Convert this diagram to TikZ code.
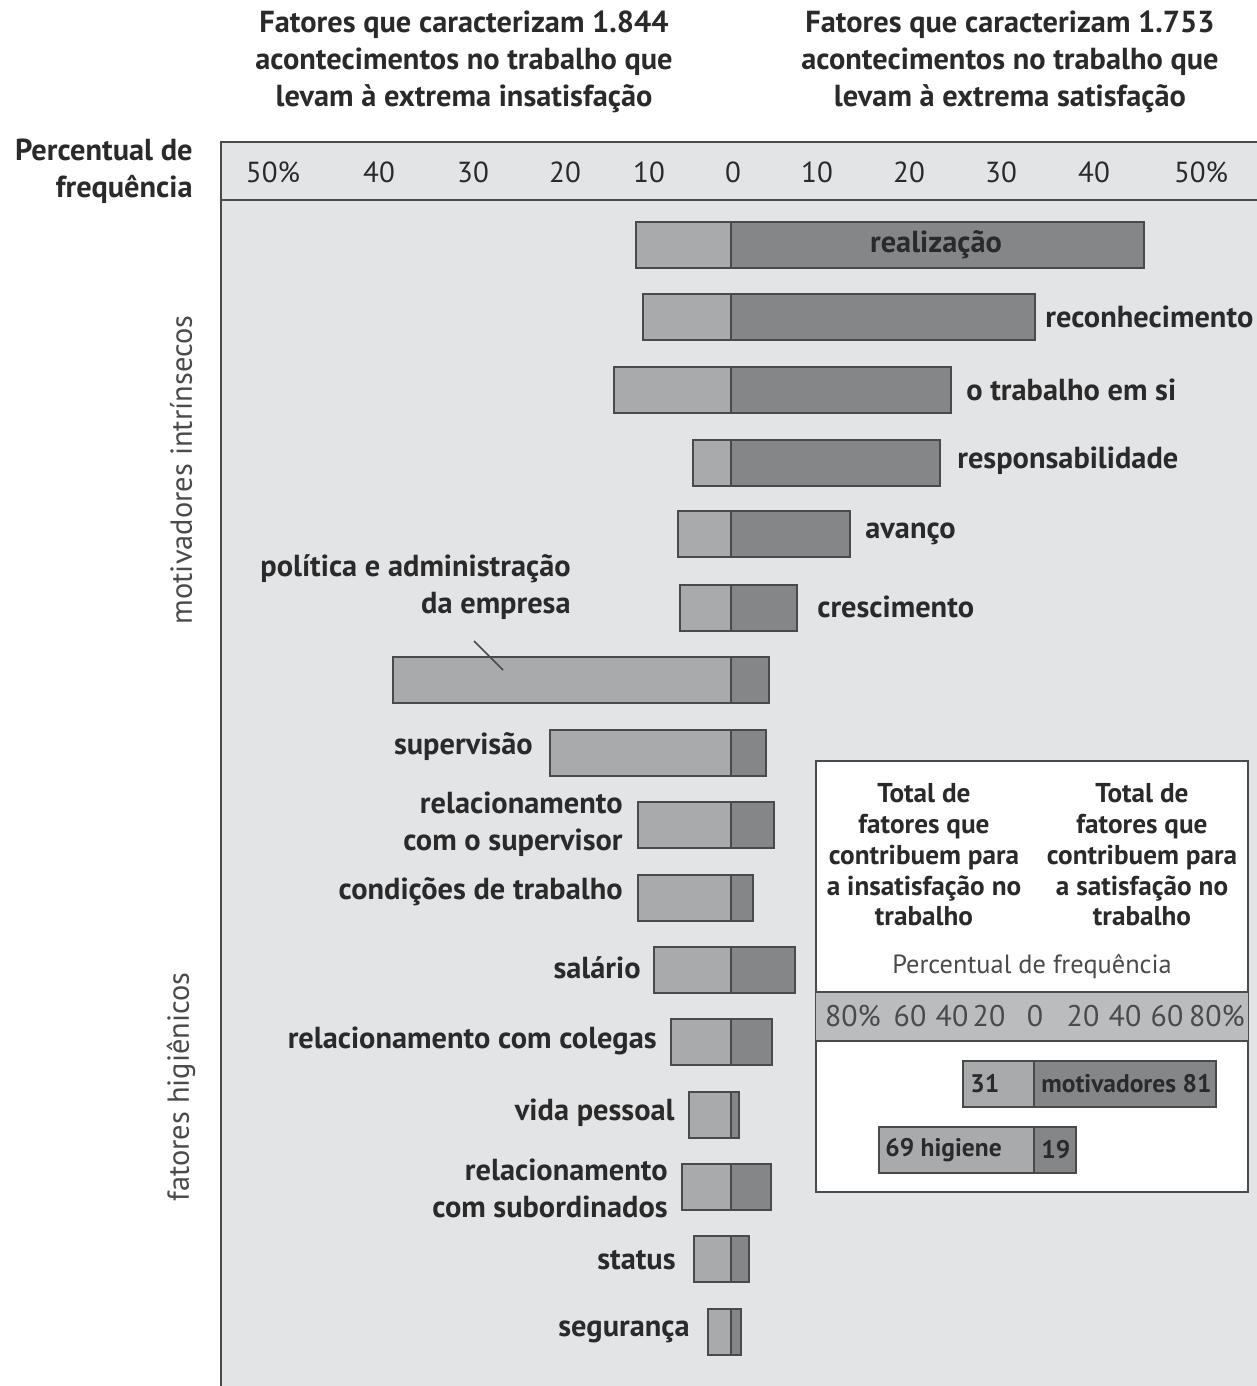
\documentclass[tikz,border=0pt]{standalone}
\usepackage{fontspec}
\setmainfont{PT Sans}
\usetikzlibrary{positioning}
\definecolor{panelgray}{HTML}{E3E4E6}
\definecolor{lightbar}{HTML}{A9AAAC}
\definecolor{darkbar}{HTML}{858688}
\definecolor{bandgray}{HTML}{BBBCBE}
\definecolor{edgegray}{HTML}{4A4A4A}
\definecolor{textgray}{HTML}{2A2A2A}

\begin{document}
\begin{tikzpicture}[x=0.02cm,y=-0.02cm,
  lbl/.style={font=\bfseries\fontsize{17.3}{21}\selectfont, text=textgray, inner sep=0pt},
  axisnum/.style={font=\fontsize{16.5}{19}\selectfont, text=textgray, inner sep=0pt},
  grouplbl/.style={font=\fontsize{17.3}{19}\selectfont, text=edgegray, inner sep=0pt, rotate=90},
  boxlbl/.style={font=\bfseries\fontsize{15.5}{17.5}\selectfont, text=textgray, inner sep=0pt, align=center},
  barlbl/.style={font=\bfseries\fontsize{14.5}{18}\selectfont, text=textgray, inner sep=0pt, anchor=west},
  baredge/.style={draw=edgegray, line width=0.9pt},
]
\useasboundingbox (0,0) rectangle (1257,1386);
\fill[panelgray] (221,142) rectangle (1257,1386);
\draw[edgegray, line width=1.3pt] (1257,142) -- (221,142) -- (221,1386);
\draw[edgegray, line width=1pt] (221,200) -- (1257,200);

\node[lbl, align=center] (titleleft) at (464,62) {Fatores que caracterizam 1.844\\acontecimentos no trabalho que\\levam à extrema insatisfação};
\node[lbl, align=center] (titleright) at (1010,62) {Fatores que caracterizam 1.753\\acontecimentos no trabalho que\\levam à extrema satisfação};
\node[lbl, align=right, anchor=east] (axistitle) at (193,171) {Percentual de\\frequência};

\foreach \xpos/\txt [count=\i] in {273/50\%, 379/40, 473/30, 565/20, 649/10, 733/0, 817/10, 909/20, 1001/30, 1094/40, 1201/50\%}
  \node[axisnum] (tick\i) at (\xpos,172) {\txt};

\node[grouplbl] (grpmotiv) at (181,470) {motivadores intrínsecos};
\node[grouplbl] (grphyg) at (181,1087) {fatores higiênicos};

\foreach \yc/\lft/\rgt in {245/636/1144, 317/643/1035, 390/614/951, 463/693/940, 534/678/850,
  608/680/797, 680/393/769, 753/550/766, 825/638/774, 898/638/753, 970/654/795,
  1042/671/772, 1115/689/739, 1187/682/771, 1259/694/749, 1332/708/741} {
  \fill[lightbar] (\lft,{\yc-23}) rectangle (731,{\yc+23});
  \fill[darkbar] (731,{\yc-23}) rectangle (\rgt,{\yc+23});
  \draw[baredge] (\lft,{\yc-23}) rectangle (\rgt,{\yc+23});
  \draw[baredge] (731,{\yc-23}) -- (731,{\yc+23});
}

\node[lbl] (realizacao) at (936,245) {realização};
\node[lbl, anchor=west] (reconhecimento) at (1045,317) {reconhecimento};
\node[lbl, anchor=west] (trabalho) at (966,390) {o trabalho em si};
\node[lbl, anchor=west] (responsab) at (957,461) {responsabilidade};
\node[lbl, anchor=west] (avanco) at (865,534) {avanço};
\node[lbl, anchor=west] (crescimento) at (817,607) {crescimento};
\node[lbl, align=right, anchor=east] (politica) at (571,587) {política e administração\\da empresa};
\node[lbl, anchor=east] (supervisao) at (533,747) {supervisão};
\node[lbl, align=right, anchor=east] (relsuperv) at (623,824) {relacionamento\\com o supervisor};
\node[lbl, anchor=east] (condicoes) at (623,892) {condições de trabalho};
\node[lbl, anchor=east] (salario) at (641,968) {salário};
\node[lbl, anchor=east] (colegas) at (657,1041) {relacionamento com colegas};
\node[lbl, anchor=east] (vidapessoal) at (675,1113) {vida pessoal};
\node[lbl, align=right, anchor=east] (subordinados) at (668,1188) {relacionamento\\com subordinados};
\node[lbl, anchor=east] (status) at (676,1260) {status};
\node[lbl, anchor=east] (seguranca) at (690,1332) {segurança};

\coordinate (politicatick) at (474,641);
\coordinate (politicabar) at (503,670);
\draw[edgegray, line width=0.9pt] (politicatick) -- (politicabar);

\draw[edgegray, line width=1.1pt, fill=white] (816,761) rectangle (1248,1192);
\fill[bandgray] (816,992) rectangle (1248,1041);
\draw[edgegray, line width=1.1pt] (816,992) -- (1248,992) (816,1041) -- (1248,1041);

\node[boxlbl] (totalinsat) at (924,855) {Total de\\fatores que\\contribuem para\\a insatisfação no\\trabalho};
\node[boxlbl] (totalsat) at (1142,855) {Total de\\fatores que\\contribuem para\\a satisfação no\\trabalho};
\node[font=\fontsize{15}{17}\selectfont, text=edgegray, inner sep=0pt] (boxaxis) at (1032,966) {Percentual de frequência};
\foreach \xpos/\txt [count=\i] in {853/80\%, 910/60, 952/40, 989/20, 1035/0, 1083/20, 1125/40, 1167/60, 1217/80\%}
  \node[font=\fontsize{17}{19}\selectfont, text=edgegray, inner sep=0pt] (boxtick\i) at (\xpos,1016) {\txt};

\foreach \yc/\lft/\rgt in {1084/963/1216, 1150/879/1076} {
  \fill[lightbar] (\lft,{\yc-23}) rectangle (1034,{\yc+23});
  \fill[darkbar] (1034,{\yc-23}) rectangle (\rgt,{\yc+23});
  \draw[baredge] (\lft,{\yc-23}) rectangle (\rgt,{\yc+23});
  \draw[baredge] (1034,{\yc-23}) -- (1034,{\yc+23});
}
\node[barlbl] (motivleft) at (970,1084) {31};
\node[barlbl] (motivright) at (1041,1084) {motivadores 81};
\node[barlbl] (hygleft) at (885,1150) {69 higiene};
\node[barlbl] (hygright) at (1041,1150) {19};
\end{tikzpicture}
\end{document}
